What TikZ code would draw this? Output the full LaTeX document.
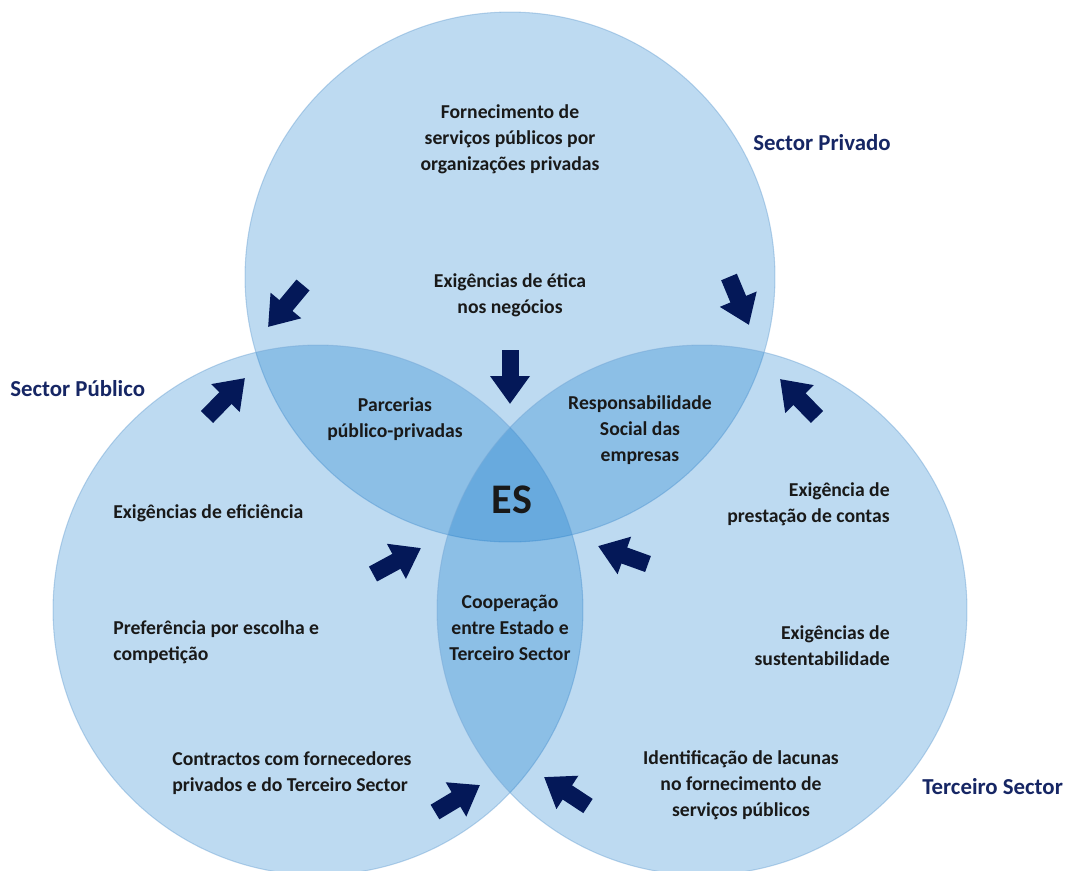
\documentclass[tikz,border=0pt]{standalone}
\usepackage{fontspec}
\setmainfont{Carlito}
\usetikzlibrary{arrows.meta}

\definecolor{circblue}{RGB}{0,112,200}
\definecolor{circedge}{RGB}{120,170,215}
\definecolor{arrownavy}{RGB}{4,24,88}
\definecolor{sectornavy}{RGB}{22,38,100}
\definecolor{textdark}{RGB}{25,25,25}

\tikzset{
  sector/.style={circle, minimum size=10.6cm, inner sep=0pt, fill=circblue, fill opacity=0.26, draw=circedge, draw opacity=0.5, line width=0.6pt},
  note/.style={font=\bfseries\fontsize{11.2}{14.8}\selectfont, text=textdark, align=center, inner sep=0pt},
  sectorlabel/.style={font=\bfseries\fontsize{13}{15}\selectfont, text=sectornavy, inner sep=0pt, anchor=west},
  push/.style={draw=arrownavy, fill=arrownavy, line width=0.34cm, -{Triangle[width=0.76cm,length=0.56cm]}},
}

\begin{document}
\begin{tikzpicture}[x=0.02cm,y=-0.02cm]
\useasboundingbox (0,0) rectangle (1067,870);

% the three sectors
\node[sector] (privado) at (510,277) {};
\node[sector] (publico) at (318,610) {};
\node[sector] (terceiro) at (702,610) {};

\node[sectorlabel] (lprivado) at (753,143) {Sector Privado};
\node[sectorlabel] (lpublico) at (10,389) {Sector Público};
\node[sectorlabel] (lterceiro) at (922,787) {Terceiro Sector};

% texts
\node[note] (fornecimento) at (510,139) {Fornecimento de\\serviços públicos por\\organizações privadas};
\node[note] (etica) at (510,295) {Exigências de ética\\nos negócios};
\node[note] (parcerias) at (395,419) {Parcerias\\público-privadas};
\node[note] (responsab) at (640,430) {Responsabilidade\\Social das\\empresas};
\node[note, font=\bfseries\fontsize{24}{26}\selectfont] (es) at (512,500) {ES};
\node[note, anchor=west] (eficiencia) at (113,513) {Exigências de eficiência};
\node[note, anchor=east, align=right] (contas) at (890,504) {Exigência de\\prestação de contas};
\node[note] (cooperacao) at (510,628) {Cooperação\\entre Estado e\\Terceiro Sector};
\node[note, anchor=west, align=left] (escolha) at (113,642) {Preferência por escolha e\\competição};
\node[note, anchor=east, align=right] (sustent) at (890,646) {Exigências de\\sustentabilidade};
\node[note, anchor=west, align=left] (contractos) at (172,773) {Contractos com fornecedores\\privados e do Terceiro Sector};
\node[note] (lacunas) at (741,785) {Identificação de lacunas\\no fornecimento de\\serviços públicos};

% block arrows (tail x/y, tip x/y)
\foreach \tx/\ty/\hx/\hy in {303/285/268/327, 510/350/510/404, 729/277/749/325,
                             207/417/245/378, 817/417/780/379,
                             373/574/421/548, 648/564/598/546,
                             435/812/480/785, 588/806/544/777}
  \draw[push] (\tx,\ty) -- (\hx,\hy);

\end{tikzpicture}
\end{document}
